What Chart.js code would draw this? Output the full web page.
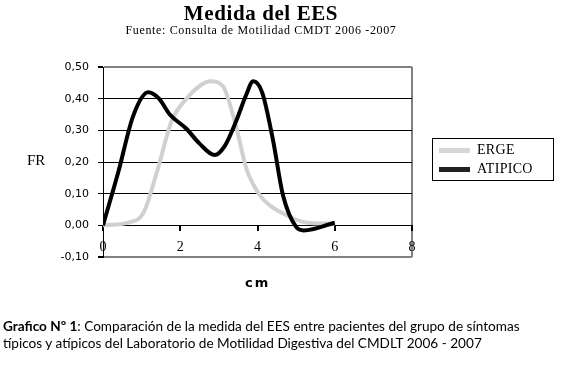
<!DOCTYPE html>
<html>
<head>
<meta charset="utf-8">
<script src="https://cdn.jsdelivr.net/npm/chart.js@4"></script>
<style>
  body { margin: 0; background: #fff; width: 574px; height: 365px; position: relative; overflow: hidden; }
  #wrap { position: absolute; left: 0; top: 0; width: 574px; height: 365px; }
  .t { position: absolute; white-space: nowrap; color: #000; }
  #title { left: 0; width: 522px; text-align: center; top: 1px; font: bold 21px "Liberation Serif", serif; letter-spacing: 0.6px; }
  #sub { left: 0; width: 522px; text-align: center; top: 23px; font: 12px "Liberation Serif", serif; letter-spacing: 0.65px; }
  #fr { left: 27px; top: 152px; font: 15px "Liberation Serif", serif; }
  #cm { left: 245px; top: 275px; font: bold 13px "DejaVu Sans", sans-serif; letter-spacing: 2px; }
  #legend { position: absolute; left: 432px; top: 138px; width: 122px; height: 43px; border: 1px solid #000; box-sizing: border-box; font: 14px "Liberation Serif", serif; }
  .row { position: absolute; left: 6px; height: 16px; }
  .sw { position: absolute; left: 0; top: 5px; width: 31px; height: 5px; }
  .lb { position: absolute; left: 38px; top: -1px; letter-spacing: 0.3px; }
  #cap { left: 3px; top: 318px; font: 13.6px "Lato", sans-serif; line-height: 17px; }
</style>
</head>
<body>
<div id="wrap"><canvas id="myChart" width="574" height="365"></canvas></div>
<div class="t" id="title">Medida del EES</div>
<div class="t" id="sub">Fuente: Consulta de Motilidad CMDT 2006 -2007</div>
<div class="t" id="fr">FR</div>
<div class="t" id="cm">cm</div>
<div id="legend">
  <div class="row" style="top:4px"><div class="sw" style="background:#d6d6d6"></div><div class="lb">ERGE</div></div>
  <div class="row" style="top:23px"><div class="sw" style="background:#222"></div><div class="lb">ATIPICO</div></div>
</div>
<div class="t" id="cap"><b>Grafico Nº 1</b>: Comparación de la medida del EES entre pacientes del grupo de síntomas<br>típicos y atípicos del Laboratorio de Motilidad Digestiva del CMDLT 2006 - 2007</div>

<script>
// curve readings (cm, FR)
var ergeX = [0, 0.7, 1.05, 1.4, 1.78, 2.16, 2.5, 2.78, 3.1, 3.45, 3.71, 4.06, 4.32, 4.75, 5.2, 6];
var ergeY = [0, 0.01, 0.04, 0.17, 0.33, 0.40, 0.44, 0.455, 0.44, 0.31, 0.18, 0.095, 0.063, 0.032, 0.01, 0.005];
var atipicoX = [0, 0.4, 0.78, 1.17, 1.45, 1.73, 2.16, 2.5, 2.89, 3.15, 3.45, 3.7, 3.89, 4.12, 4.4, 4.66, 5.0, 5.2, 6];
var atipicoY = [0, 0.17, 0.345, 0.42, 0.40, 0.35, 0.305, 0.258, 0.222, 0.25, 0.33, 0.41, 0.455, 0.42, 0.27, 0.095, -0.005, -0.016, 0.008];
var yTicks = [-0.1, 0, 0.1, 0.2, 0.3, 0.4, 0.5];

function pts(xs, ys) {
  return xs.map(function (x, i) { return { x: x, y: ys[i] }; });
}
function near(a, b) { return Math.abs(a - b) < 1e-6; }

var ctx = document.getElementById('myChart');

var myChart = new Chart(ctx, {
    type: 'scatter',
    data: {
        datasets: [{
            label: 'ERGE',
            data: pts(ergeX, ergeY),
            showLine: true,
            borderColor: '#d0d0d0',
            borderWidth: 4,
            pointRadius: 0,
            cubicInterpolationMode: 'monotone',
            order: 2
        }, {
            label: 'ATIPICO',
            data: pts(atipicoX, atipicoY),
            showLine: true,
            borderColor: '#000',
            borderWidth: 4,
            pointRadius: 0,
            cubicInterpolationMode: 'monotone',
            order: 1
        }]
    },
    options: {
        responsive: false,
        animation: false,
        layout: { padding: { top: 67, right: 162, bottom: 108, left: 0 } },
        plugins: { legend: { display: false }, tooltip: { enabled: false } },
        scales: {
          x: {
            type: 'linear',
            position: { y: 0 },
            min: 0, max: 8,
            ticks: { stepSize: 2, padding: 9, color: '#000', font: { family: 'Liberation Serif', size: 14 } },
            border: { color: '#000', width: 1 },
            grid: {
              color: function (c) { return c.tick && c.tick.value === 8 ? '#808080' : 'rgba(0,0,0,0)'; },
              lineWidth: 2,
              tickColor: '#000',
              tickLength: 5
            }
          },
          y: {
            min: -0.1, max: 0.5,
            afterFit: function (s) { s.width = 103; },
            afterBuildTicks: function (s) { s.ticks = yTicks.map(function (v) { return { value: v }; }); },
            ticks: {
              padding: 9, color: '#000',
              font: { family: 'DejaVu Sans', size: 11 },
              callback: function (v) { return v.toFixed(2).replace('.', ','); }
            },
            border: { color: '#000', width: 1 },
            grid: {
              color: function (c) {
                var v = c.tick ? c.tick.value : 0;
                return (near(v, 0.5) || near(v, -0.1)) ? '#808080' : '#000';
              },
              lineWidth: function (c) {
                var v = c.tick ? c.tick.value : 0;
                return (near(v, 0.5) || near(v, -0.1)) ? 2 : 1;
              },
              tickColor: '#000',
              tickLength: 5
            }
          }
        }
    }
});
</script>
</body>
</html>
